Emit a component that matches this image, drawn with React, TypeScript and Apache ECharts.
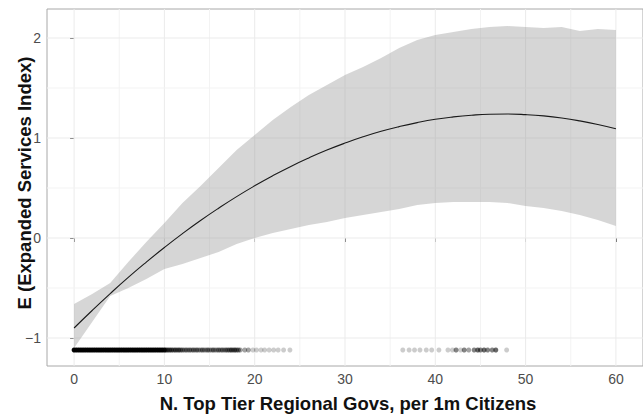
import React, { useEffect, useRef } from "react";
import * as echarts from "echarts";

// ---- data ----
const fitX = [0, 2, 4, 6, 8, 10, 12, 14, 16, 18, 20, 22, 24, 26, 28, 30, 32, 34, 36, 38, 40, 42, 44, 46, 48, 50, 52, 54, 56, 58, 60];
const fitY = [-0.9, -0.725, -0.556, -0.394, -0.241, -0.095, 0.044, 0.175, 0.298, 0.414, 0.522, 0.623, 0.716, 0.801, 0.879, 0.949, 1.012, 1.067, 1.114, 1.154, 1.187, 1.211, 1.228, 1.238, 1.24, 1.234, 1.221, 1.2, 1.171, 1.135, 1.092];
const bandUpper = [-0.66, -0.56, -0.45, -0.24, -0.04, 0.15, 0.35, 0.52, 0.7, 0.88, 1.03, 1.18, 1.31, 1.43, 1.53, 1.63, 1.71, 1.8, 1.9, 1.98, 2.03, 2.06, 2.09, 2.11, 2.12, 2.11, 2.1, 2.11, 2.07, 2.09, 2.08];
const bandLower = [-1.1, -0.84, -0.58, -0.5, -0.41, -0.31, -0.26, -0.2, -0.14, -0.06, 0.0, 0.05, 0.09, 0.13, 0.16, 0.2, 0.23, 0.26, 0.29, 0.33, 0.35, 0.36, 0.36, 0.36, 0.35, 0.32, 0.3, 0.27, 0.23, 0.18, 0.12];

const rugX = [
  0, 0.25, 0.5, 0.75, 1, 1.25, 1.5, 1.75, 2, 2.25, 2.5, 2.75, 3, 3.25, 3.5, 3.75, 4, 4.25, 4.5, 4.75,
  5, 5.25, 5.5, 5.75, 6, 6.25, 6.5, 6.75, 7, 7.25, 7.5, 7.75, 8, 8.25, 8.5, 8.75, 9, 9.25, 9.5, 9.75, 10,
  10.2, 10.4, 10.6, 10.8, 11.0, 11.2, 11.4, 11.6, 11.8, 12.0, 12.2, 12.4, 12.6, 12.8, 13.0, 13.2, 13.4, 13.6, 13.8, 14.0,
  14.2, 14.4, 14.6, 14.8, 15.0, 15.2, 15.4, 15.6, 15.8, 16.0, 16.2, 16.4, 16.6, 16.8, 17.0, 17.2, 17.4, 17.6, 17.8, 18.0, 18.2, 18.4,
  18.9, 19.3, 19.8, 20.2, 20.7, 21.1, 21.6, 22.1, 22.6, 23.2, 23.9,
  36.4, 37.1, 37.7, 38.3, 39.0, 39.6, 40.4, 41.4, 41.9, 42.3, 42.8, 43.2, 43.7, 44.3, 44.7, 45.0, 45.4, 45.8, 46.3, 46.7, 47.9,
];
const rugN = [
  20, 20, 20, 20, 20, 20, 20, 20, 20, 20, 20, 20, 20, 20, 20, 20, 20, 20, 20, 20,
  20, 20, 20, 20, 20, 20, 20, 20, 20, 20, 20, 20, 20, 20, 20, 20, 20, 20, 20, 20, 12,
  5, 4, 4, 4, 3, 4, 3, 4, 3, 3, 2, 3, 2, 3, 2, 3, 2, 3, 2, 2,
  3, 2, 2, 3, 2, 2, 3, 2, 2, 3, 2, 3, 2, 3, 3, 3, 4, 3, 4, 3, 3, 2,
  2, 2, 1, 1, 1, 1, 1, 1, 1, 1, 1,
  1, 1, 1, 1, 1, 1, 1, 1, 1, 3, 1, 3, 2, 3, 4, 3, 4, 3, 3, 4, 1,
];
const rugY = -1.12;

const xTicks = [0, 10, 20, 30, 40, 50, 60];
const xMinor = [5, 15, 25, 35, 45, 55];
const yTicks = [-1, 0, 1, 2];
const yMinor = [-0.5, 0.5, 1.5];

const X_MIN = -3;
const X_MAX = 63;
const Y_MIN = -1.28;
const Y_MAX = 2.29;

const xTitle = "N. Top Tier Regional Govs, per 1m Citizens";
const yTitle = "E (Expanded Services Index)";

const FONT = "'Liberation Sans', Arial, Helvetica, sans-serif";

export default function App() {
  const ref = useRef<HTMLDivElement>(null);

  useEffect(() => {
    if (!ref.current) return;
    const chart = echarts.init(ref.current, null, { renderer: "svg" });

    const gridItems: number[][] = [
      ...xMinor.map((v) => [v, Y_MIN, 0, 0]),
      ...xTicks.map((v) => [v, Y_MIN, 0, 1]),
      ...yMinor.map((v) => [X_MIN, v, 1, 0]),
      ...yTicks.map((v) => [X_MIN, v, 1, 1]),
    ];

    const fmt = (v: number) => String(v).replace("-", "\u2212");

    chart.setOption({
      animation: false,
      grid: {
        left: 47,
        right: -6,
        top: 9,
        bottom: 51,
        show: true,
        borderColor: "#a8a8a8",
        borderWidth: 1,
        backgroundColor: "#ffffff",
      },
      xAxis: {
        type: "value",
        min: X_MIN,
        max: X_MAX,
        axisLine: { show: false },
        splitLine: { show: false },
        axisTick: { show: true, length: 4, customValues: xTicks, lineStyle: { color: "#333333", width: 1 } },
        axisLabel: { customValues: xTicks, color: "#4d4d4d", fontSize: 14, fontFamily: FONT, margin: 6, formatter: fmt },
      },
      yAxis: {
        type: "value",
        min: Y_MIN,
        max: Y_MAX,
        axisLine: { show: false },
        splitLine: { show: false },
        axisTick: { show: true, length: 4, customValues: yTicks, lineStyle: { color: "#333333", width: 1 } },
        axisLabel: { customValues: yTicks, color: "#4d4d4d", fontSize: 14, fontFamily: FONT, margin: 6, formatter: fmt },
      },
      series: [
        {
          type: "custom",
          z: 1,
          silent: true,
          data: gridItems,
          renderItem: (params: any, api: any) => {
            const o = api.value(2);
            const k = api.value(3);
            let p1, p2;
            if (o === 0) {
              const v = api.value(0);
              p1 = api.coord([v, Y_MIN]);
              p2 = api.coord([v, Y_MAX]);
            } else {
              const v = api.value(1);
              p1 = api.coord([X_MIN, v]);
              p2 = api.coord([X_MAX, v]);
            }
            return {
              type: "line",
              shape: { x1: p1[0], y1: p1[1], x2: p2[0], y2: p2[1] },
              style: { stroke: k ? "#ebebeb" : "#f3f3f3", lineWidth: 1 },
            };
          },
        },
        {
          type: "custom",
          z: 2,
          silent: true,
          data: [[0, 0]],
          renderItem: (params: any, api: any) => {
            const up = fitX.map((x, i) => api.coord([x, bandUpper[i]]));
            const lo = fitX.map((x, i) => api.coord([x, bandLower[i]])).reverse();
            return {
              type: "polygon",
              shape: { points: up.concat(lo) },
              style: { fill: "rgba(153,153,153,0.4)" },
            };
          },
        },
        {
          type: "line",
          z: 3,
          silent: true,
          data: fitX.map((x, i) => [x, fitY[i]]),
          showSymbol: false,
          smooth: true,
          lineStyle: { color: "#1a1a1a", width: 1.1 },
        },
        {
          type: "scatter",
          z: 4,
          silent: true,
          symbolSize: 5,
          data: rugX.map((x, i) => ({
            value: [x, rugY],
            itemStyle: { color: "#000000", opacity: 1 - Math.pow(0.8, rugN[i]) },
          })),
        },
      ],
      graphic: [
        {
          type: "text",
          x: 348,
          y: 403.5,
          style: {
            text: xTitle,
            fill: "#111111",
            font: `bold 18.5px ${FONT}`,
            align: "center",
            verticalAlign: "middle",
          },
        },
        {
          type: "text",
          x: 24,
          y: 183,
          rotation: Math.PI / 2,
          style: {
            text: yTitle,
            fill: "#111111",
            font: `bold 18.5px ${FONT}`,
            align: "center",
            verticalAlign: "middle",
          },
        },
      ],
    });

    return () => {
      chart.dispose();
    };
  }, []);

  return (
    <div
      ref={ref}
      style={{ position: "absolute", left: 0, top: 0, width: 643, height: 417 }}
    />
  );
}
